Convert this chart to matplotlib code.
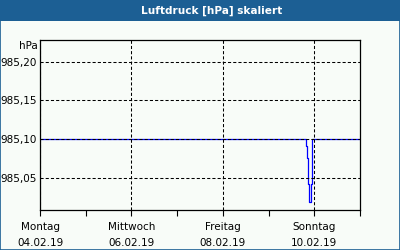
import matplotlib
matplotlib.use('Agg')
import matplotlib.pyplot as plt
import matplotlib.dates as mdates
from matplotlib.patches import Rectangle
from matplotlib.ticker import FuncFormatter, FixedLocator
import pandas as pd

# Data
times = pd.to_datetime(['2019-02-04 00:00', '2019-02-09 19:28', '2019-02-09 20:00',
                        '2019-02-09 20:43', '2019-02-09 21:01', '2019-02-09 22:03',
                        '2019-02-09 22:33', '2019-02-11 00:00'])
pressure = [985.10, 985.091, 985.075, 985.042, 985.018, 985.042, 985.10, 985.10]

xtick_dates = pd.to_datetime(['2019-02-04', '2019-02-06', '2019-02-08', '2019-02-10'])
xtick_labels = ['Montag\n04.02.19', 'Mittwoch\n06.02.19', 'Freitag\n08.02.19', 'Sonntag\n10.02.19']
minor_dates = pd.to_datetime(['2019-02-05', '2019-02-07', '2019-02-09', '2019-02-11'])
yticks = [985.05, 985.10, 985.15, 985.20]

title = 'Luftdruck [hPa] skaliert'
bg = '#f8fcf8'
bar = '#1c5f94'

fig = plt.figure(figsize=(4, 2.5), dpi=100, facecolor=bg)
ax = fig.add_axes([0.1, 0.16, 0.8, 0.68], facecolor=bg)

ax.plot(times, pressure, color='#0000ff', linewidth=0.9, drawstyle='steps-post', zorder=2)

ax.set_xlim(pd.Timestamp('2019-02-04'), pd.Timestamp('2019-02-11'))
ax.set_ylim(985.008, 985.228)

ax.xaxis.set_major_locator(FixedLocator(mdates.date2num(xtick_dates)))
ax.xaxis.set_minor_locator(FixedLocator(mdates.date2num(minor_dates)))
ax.set_xticklabels(xtick_labels)
ax.set_yticks(yticks)
ax.yaxis.set_major_formatter(FuncFormatter(lambda v, p: '{:.2f}'.format(v).replace('.', ',')))

ax.tick_params(axis='x', which='both', direction='out', length=4, width=0.8, color='black',
               labelsize=7.5, pad=5)
ax.tick_params(axis='y', length=0, labelsize=7.5, pad=2)
for lab in ax.get_xticklabels():
    lab.set_linespacing(1.7)

# grid drawn over the line, as in the reference
ax.set_axisbelow(False)
ax.grid(True, which='major', color='black', linestyle=(0, (3, 2)), linewidth=0.75)
for s in ax.spines.values():
    s.set_color('black')
    s.set_linewidth(0.9)

fig.text(0.095, 0.816, 'hPa', ha='right', va='center', fontsize=7.5)

# title bar and frame
fig.patches.append(Rectangle((0, 0.915), 1, 0.085, transform=fig.transFigure,
                             facecolor=bar, edgecolor='none', zorder=0))
fig.patches.append(Rectangle((0.0012, 0.002), 0.9976, 0.996, transform=fig.transFigure,
                             facecolor='none', edgecolor=bar, linewidth=1.2, zorder=5))
fig.text(0.528, 0.957, title, ha='center', va='center', color='white',
         fontsize=7.6, fontweight='bold')

fig.savefig('out.png', dpi=100, facecolor=bg)
